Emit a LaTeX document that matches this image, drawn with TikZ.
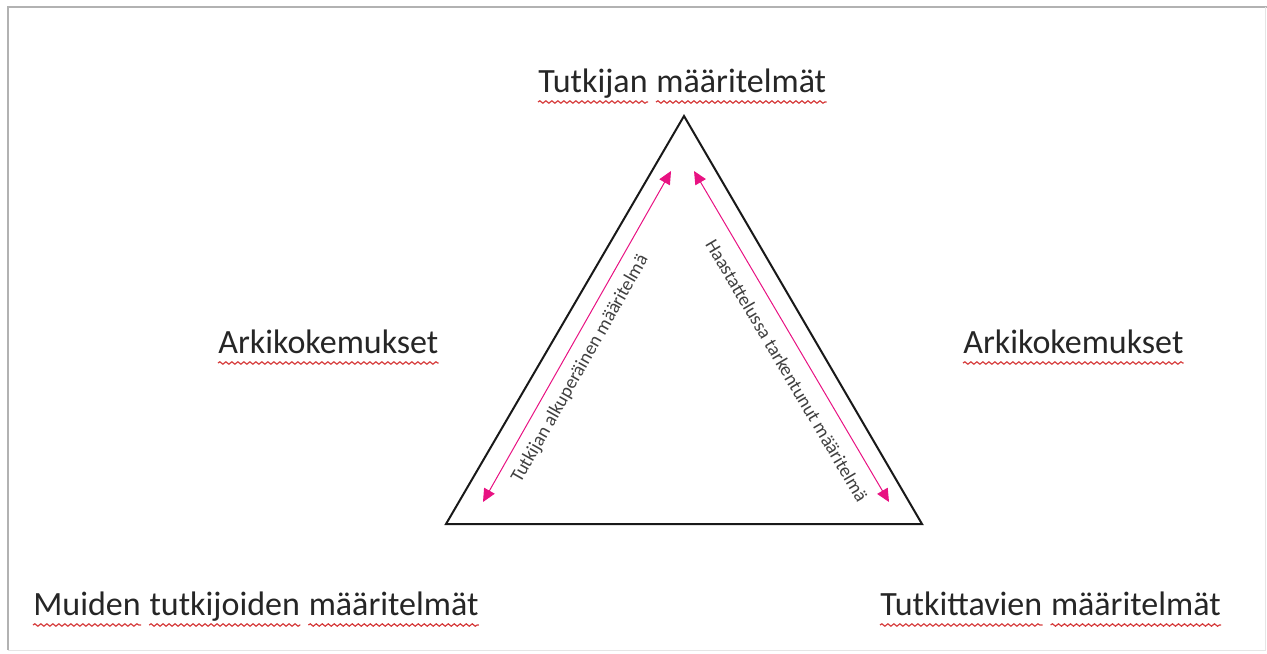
\documentclass[tikz,border=0pt]{standalone}
\usepackage{fontspec}
\setmainfont{Carlito}
\usetikzlibrary{arrows.meta,positioning,decorations.pathmorphing}
\definecolor{pinkarr}{RGB}{232,18,130}
\definecolor{spellred}{RGB}{214,60,60}

\begin{document}
\begin{tikzpicture}[
  x=0.5pt, y=-0.5pt,
  lbl/.style={font=\fontsize{17}{20}\selectfont, text=black!85, inner sep=0pt,
              anchor=base west},
  side/.style={font=\fontsize{9.5}{11}\selectfont, text=black!75, inner sep=1pt},
  tri/.style={draw=black!90, line width=1pt, line join=miter},
  arr/.style={{Triangle[length=6.5pt,width=6pt]}-{Triangle[length=6.5pt,width=6pt]},
              color=pinkarr, line width=0.5pt},
  squig/.style={draw=spellred, line width=0.6pt,
                decorate, decoration={snake, segment length=3pt, amplitude=0.6pt}},
  frame/.style={draw=gray!60, line width=1pt}
]
\useasboundingbox (0,0) rectangle (1267,653);
% ── Frame ─────────────────────────────
\draw[frame] (8,650) -- (8,7) -- (1267,7);
\draw[draw=gray!20] (1265,7) -- (1265,650) -- (8,650);
% ── Triangle ──────────────────────────
\coordinate (top) at (684,116);
\coordinate (bl) at (446,524);
\coordinate (br) at (922,524);
\draw[tri] (top) -- (bl) -- (br) -- cycle;
% ── Arrows ────────────────────────────
\coordinate (la1) at (483,502);
\coordinate (la2) at (671,171);
\coordinate (ra1) at (694,171);
\coordinate (ra2) at (889,502);
\draw[arr] (la1) -- node[side, sloped, below=4pt, pos=0.43]
  {Tutkijan alkuperäinen määritelmä} (la2);
\draw[arr] (ra1) -- node[side, sloped, below=6pt, pos=0.57]
  {Haastattelussa tarkentunut määritelmä} (ra2);
% ── Labels ────────────────────────────
\node[lbl] (t1) at (538,92) {Tutkijan};
\node[lbl] (t2) at ([xshift=4pt]t1.base east) {määritelmät};
\node[lbl] (a1) at (218,353) {Arkikokemukset};
\node[lbl] (b1) at (963,353) {Arkikokemukset};
\node[lbl] (m1) at (33,615) {Muiden};
\node[lbl] (m2) at ([xshift=4pt]m1.base east) {tutkijoiden};
\node[lbl] (m3) at ([xshift=4pt]m2.base east) {määritelmät};
\node[lbl] (k1) at (880,615) {Tutkittavien};
\node[lbl] (k2) at ([xshift=4pt]k1.base east) {määritelmät};
% ── Spelling marks ────────────────────
\foreach \w in {t1,t2,a1,b1,m1,m2,m3,k1,k2}
  \draw[squig] ([yshift=-5pt]\w.base west) -- ([yshift=-5pt]\w.base east);
\end{tikzpicture}
\end{document}
